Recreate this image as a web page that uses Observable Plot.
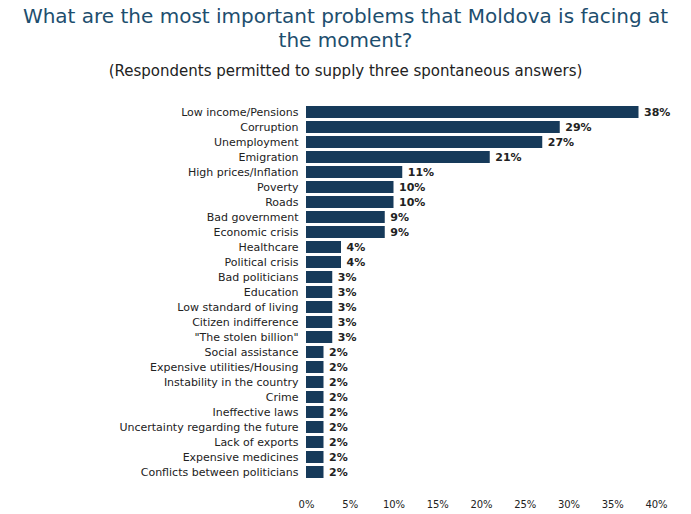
<!DOCTYPE html>
<html><head><meta charset="utf-8">
<script src="https://cdn.jsdelivr.net/npm/d3@7"></script>
<script src="https://cdn.jsdelivr.net/npm/@observablehq/plot@0.6"></script>
<style>
body{margin:0;background:#fff;font-family:"DejaVu Sans",sans-serif;}
#t{color:#1d4e6e;font-size:20px;text-align:center;line-height:24px;margin-top:4px;width:691px;}
#s{color:#222;font-size:15px;text-align:center;margin-top:10px;width:691px;height:22px;}
</style></head><body>
<div id="t">What are the most important problems that Moldova is facing at<br>the moment?</div>
<div id="s">(Respondents permitted to supply three spontaneous answers)</div>
<div id="c"></div>
<script>
const categories = ["Low income/Pensions","Corruption","Unemployment","Emigration","High prices/Inflation","Poverty","Roads","Bad government","Economic crisis","Healthcare","Political crisis","Bad politicians","Education","Low standard of living","Citizen indifference","\"The stolen billion\"","Social assistance","Expensive utilities/Housing","Instability in the country","Crime","Ineffective laws","Uncertainty regarding the future","Lack of exports","Expensive medicines","Conflicts between politicians"];
const values = [38,29,27,21,11,10,10,9,9,4,4,3,3,3,3,3,2,2,2,2,2,2,2,2,2];
const xTicks = [0,5,10,15,20,25,30,35,40];
const data = categories.map((c,i)=>({c, v: values[i]}));
const chart = Plot.plot({
  width: 691, height: 432,
  marginLeft: 306, marginRight: 35, marginTop: 8, marginBottom: 24,
  style: {fontFamily: "DejaVu Sans, sans-serif", fontSize: "10px", color: "#222"},
  x: {domain: [0,40], ticks: xTicks, tickFormat: d => d + "%", label: null, tickSize: 0},
  y: {domain: categories, padding: 0.2, label: null, tickSize: 0, tickPadding: 8},
  marks: [
    Plot.barX(data, {x: "v", y: "c", fill: "#163a5a"}),
    Plot.text(data, {x: "v", y: "c", text: d => d.v + "%", dx: 5, textAnchor: "start", fontWeight: "bold", fontSize: 11, fill: "#222"}),
    Plot.axisY({tickSize: 0, tickPadding: 8, fontSize: 11}),
    Plot.axisX({ticks: xTicks, tickFormat: d => d + "%", tickSize: 0, tickPadding: 8, fontSize: 10})
  ]
});
document.getElementById("c").appendChild(chart);
</script></body></html>
